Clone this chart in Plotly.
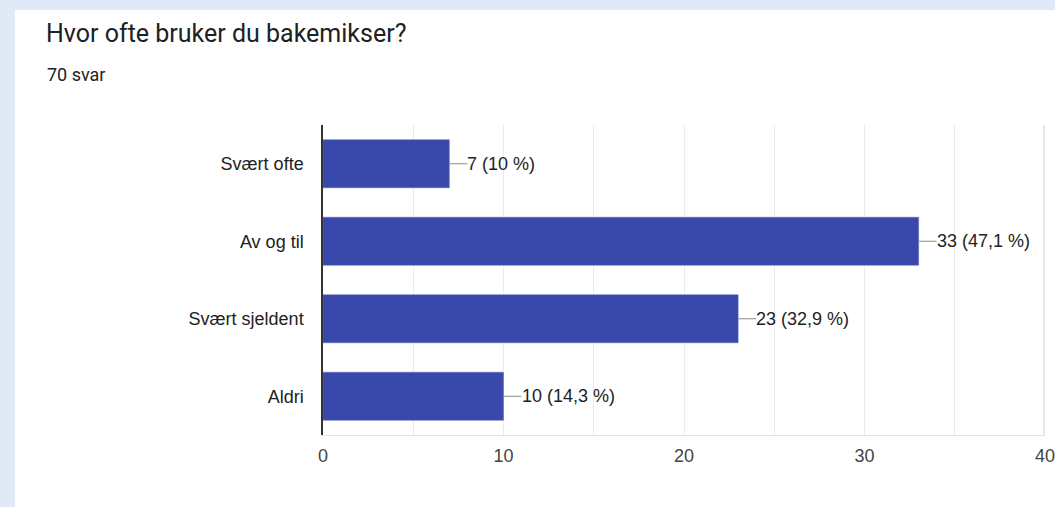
import plotly.graph_objects as go

categories = ["Svært ofte", "Av og til", "Svært sjeldent", "Aldri"]
counts = [7, 33, 23, 10]
percent_labels = ["10 %", "47,1 %", "32,9 %", "14,3 %"]
title_text = "Hvor ofte bruker du bakemikser?"
subtitle_text = "70 svar"
x_ticks = [0, 10, 20, 30, 40]

W, H = 1055, 507
L, R, T, B = 323, 10, 125, 72
pw = W - L - R
ph = H - T - B
x_max = 40
unit_px = pw / x_max
lead_len = 18 / unit_px

BAR = "#3949ab"
FONT = "Liberation Sans, Arial"
fig = go.Figure()
fig.add_trace(go.Bar(x=counts, y=categories, orientation="h",
                     marker=dict(color=BAR, line=dict(color="#5c6bc0", width=0.5)),
                     hoverinfo="skip"))

for c, v, p in zip(categories, counts, percent_labels):
    fig.add_trace(go.Scatter(x=[v + 0.03, v + lead_len], y=[c, c], mode="lines",
                             line=dict(color="#888888", width=1), hoverinfo="skip",
                             showlegend=False))
    fig.add_annotation(x=v + lead_len, y=c, text=f"{v} ({p})", showarrow=False,
                       xanchor="left", yanchor="middle", xshift=-2,
                       font=dict(family=FONT, size=18, color="#222222"))

# white card
fig.add_shape(type="rect", xref="paper", yref="paper",
              x0=(15 - L) / pw, x1=(W + 5 - L) / pw,
              y0=-(H + 5 - T - ph) / ph, y1=1 + (T - 10) / ph,
              fillcolor="white", line=dict(width=0), layer="below")
# gridline at the right edge of the range
fig.add_shape(type="line", xref="x", yref="paper", xsizemode="pixel", xanchor=x_max,
              x0=-1, x1=-1, y0=0, y1=1,
              line=dict(color="#e0e0e0", width=1.5), layer="above")

fig.add_annotation(xref="paper", yref="paper", x=(46 - L) / pw, y=1 + (T - 75) / ph,
                   text=subtitle_text, showarrow=False, xanchor="left", yanchor="middle",
                   xshift=-1,
                   font=dict(family="Roboto", size=18, color="#202124"))

fig.update_layout(
    width=W, height=H,
    margin=dict(l=L, r=R, t=T, b=B),
    paper_bgcolor="#dfeaf6",
    plot_bgcolor="white",
    showlegend=False,
    bargap=0.38,
    title=dict(text=title_text, x=46 / W, xanchor="left", xref="container",
               y=1 - 33 / H, yanchor="middle", yref="container",
               font=dict(family="Roboto", size=25, color="#202124")),
    xaxis=dict(range=[0, x_max], tickvals=x_ticks, ticktext=[str(t) for t in x_ticks],
               showgrid=True, gridcolor="#ebebeb", gridwidth=1,
               minor=dict(dtick=5, showgrid=True, gridcolor="#ebebeb", gridwidth=1),
               zeroline=False, showline=True, linecolor="#e3e3e3", linewidth=1,
               mirror=False,
               ticks="", ticklen=0, ticklabelstandoff=4, automargin=False,
               ticklabeloverflow="allow",
               tickfont=dict(family=FONT, size=18, color="#444444"),
               fixedrange=True),
    yaxis=dict(autorange="reversed", showgrid=False, zeroline=False,
               showline=True, linecolor="#333333", linewidth=1.5,
               ticks="", ticklabelstandoff=14, automargin=False,
               tickfont=dict(family=FONT, size=18, color="#222222"),
               fixedrange=True),
)

fig.write_html("out.html", config={"displayModeBar": False})
